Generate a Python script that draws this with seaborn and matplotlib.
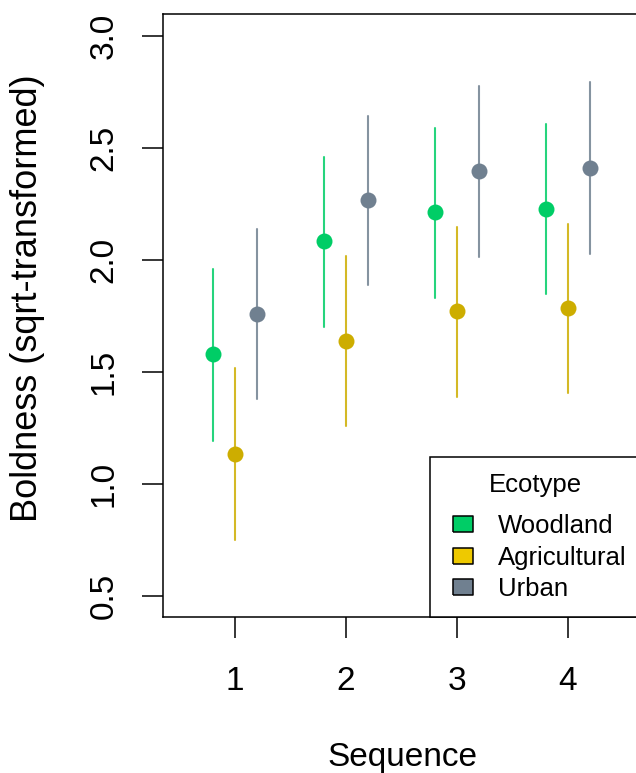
import pandas as pd
import seaborn as sns
import matplotlib.pyplot as plt
from matplotlib.lines import Line2D

sequences = [1, 2, 3, 4]
ecotypes = ["Woodland", "Agricultural", "Urban"]

woodland_mean = [1.580, 2.085, 2.214, 2.228]
woodland_lower = [1.192, 1.701, 1.830, 1.848]
woodland_upper = [1.960, 2.460, 2.589, 2.607]

agricultural_mean = [1.134, 1.638, 1.772, 1.786]
agricultural_lower = [0.750, 1.259, 1.388, 1.406]
agricultural_upper = [1.518, 2.018, 2.147, 2.161]

urban_mean = [1.759, 2.268, 2.397, 2.411]
urban_lower = [1.379, 1.888, 2.013, 2.027]
urban_upper = [2.138, 2.643, 2.777, 2.795]

point_colors = ["#00CD66", "#CDAD00", "#708090"]
legend_colors = ["#00CD66", "#EEC900", "#708090"]

y_ticks = [0.5, 1.0, 1.5, 2.0, 2.5, 3.0]

# long form: lower / mean / upper rows per cell, so median = mean and
# the 100% percentile interval spans lower..upper
series = {
    "Woodland": (woodland_lower, woodland_mean, woodland_upper),
    "Agricultural": (agricultural_lower, agricultural_mean, agricultural_upper),
    "Urban": (urban_lower, urban_mean, urban_upper),
}
rows = []
for eco in ecotypes:
    lo, mid, hi = series[eco]
    for i, s in enumerate(sequences):
        for v in (lo[i], mid[i], hi[i]):
            rows.append({"Sequence": s, "Ecotype": eco, "Boldness": v})
df = pd.DataFrame(rows)

sns.set_theme(style="ticks")
plt.rcParams["font.family"] = ["Liberation Sans", "DejaVu Sans"]
plt.rcParams["text.color"] = "black"

fig = plt.figure(figsize=(6.36, 7.73), dpi=100)
ax = fig.add_axes([163 / 636, 156 / 773, 478 / 636, 603 / 773])

sns.pointplot(
    data=df,
    x="Sequence",
    y="Boldness",
    hue="Ecotype",
    hue_order=ecotypes,
    palette=point_colors,
    estimator="median",
    errorbar=("pi", 100),
    native_scale=True,
    dodge=0.4,
    linestyle="none",
    marker="o",
    markersize=11.5,
    markeredgewidth=0,
    err_kws={"linewidth": 1.5, "alpha": 0.85},
    legend=False,
    ax=ax,
)

ax.set_xlim(0.3514, 4.658)
ax.set_ylim(0.4063, 3.098)
ax.set_xticks(sequences)
ax.set_xticklabels([str(s) for s in sequences])
ax.set_yticks(y_ticks)
ax.set_yticklabels([f"{v:.1f}" for v in y_ticks])
plt.setp(ax.get_yticklabels(), rotation=90, va="center")

for sp in ax.spines.values():
    sp.set_visible(True)
    sp.set_color("black")
    sp.set_linewidth(1.1)
ax.tick_params(direction="out", length=15, width=1.1,
               labelsize=24, colors="black")
ax.tick_params(axis="x", pad=20.5)
ax.tick_params(axis="y", pad=16.5)

ax.set_xlabel("Sequence", fontsize=24, color="black")
ax.set_ylabel("Boldness (sqrt-transformed)", fontsize=26, color="black")
ax.xaxis.set_label_coords(0.5, -0.208)
ax.yaxis.set_label_coords(-0.247, 0.528)

box = [(-1, -0.8), (1, -0.8), (1, 0.8), (-1, 0.8), (-1, -0.8)]
handles = [
    Line2D([], [], linestyle="none", marker=box, markersize=14.4,
           markerfacecolor=c, markeredgecolor="black", markeredgewidth=1.1)
    for c in legend_colors
]
leg = ax.legend(
    handles, ecotypes, title="Ecotype",
    loc="lower left", bbox_to_anchor=(0.5586, 0, 0.4414, 0.4),
    mode="expand", borderaxespad=0,
    fontsize=18.5, title_fontsize=18.5, labelcolor="black",
    fancybox=False, framealpha=1, edgecolor="black",
    handlelength=1.35, handletextpad=0.68, borderpad=0.61, labelspacing=0.29,
)
leg.get_title().set_color("black")
leg.get_frame().set_linewidth(1.1)
# wider gap between the title and the first entry
leg._legend_box.sep = 12.7

fig.savefig("out.png", dpi=100)
plt.close(fig)
